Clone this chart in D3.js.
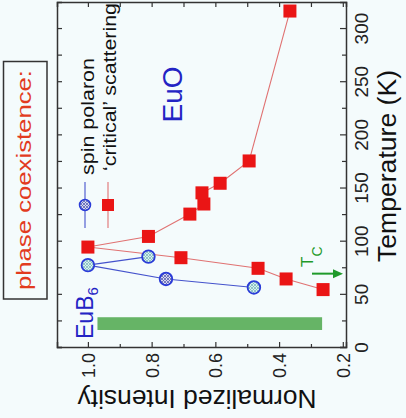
<!DOCTYPE html>
<html><head><meta charset="utf-8">
<script src="https://cdn.jsdelivr.net/npm/d3@7"></script>
<style>
html,body{margin:0;padding:0;background:#f4fbfc;}
svg{display:block;}
text{font-family:"Liberation Sans",Arial,Helvetica,sans-serif;}
</style></head>
<body>
<svg id="chart" width="406" height="418"></svg>
<script>
// ---- data ----
const intensityTicks = [1.0, 0.8, 0.6, 0.4, 0.2];
const intensityMinor = [0.9, 0.7, 0.5, 0.3];
const temperatureTicks = [0, 50, 100, 150, 200, 250, 300];
const temperatureMinor = [25, 75, 125, 175, 225, 275, 325];

// spin polaron (EuB6) – two branches from the common first point
const spinUpperI = [1.0, 0.81];
const spinUpperT = [77, 85];
const spinLowerI = [1.0, 0.755, 0.479];
const spinLowerT = [77, 64, 56];
// 'critical' scattering (EuO)
const critUpperI = [1.0, 0.81, 0.68, 0.636, 0.642, 0.585, 0.494, 0.366];
const critUpperT = [94, 104, 125, 134.5, 145, 154, 175, 316];
const critLowerI = [1.0, 0.708, 0.466, 0.378, 0.262];
const critLowerT = [94, 84, 74, 64, 54];
// filling of the spin-polaron circles ("dark" = darker cross-hatch)
const spinUpperFill = ["light", "light"];
const spinLowerFill = ["light", "dark", "light"];

const tcTemperature = 69;           // T_C arrow
const barIntensity = [0.97, 0.265]; // green bar
const barTemperature = [16, 28];

const legendLabels = ["spin polaron", "\u2018critical\u2019 scattering"];

// ---- scales ----
const svg = d3.select("#chart");
const x = d3.scaleLinear().domain([1.097, 0.19]).range([57, 346]);
const y = d3.scaleLinear().domain([0, 324.5]).range([347, 2]);

const defs = svg.append("defs");
function hatch(id, bg, fg) {
  const p = defs.append("pattern").attr("id", id).attr("patternUnits", "userSpaceOnUse")
    .attr("width", 3).attr("height", 3);
  p.append("rect").attr("width", 3).attr("height", 3).attr("fill", bg);
  p.append("path").attr("d", "M0,0L3,3M3,0L0,3").attr("stroke", fg).attr("stroke-width", 0.8);
}
hatch("hLight", "#d6f2ec", "#7fb8c0");
hatch("hDark", "#d8d8ee", "#5a62b4");

const axisColor = "#333";

// green bar
svg.append("rect")
  .attr("x", x(barIntensity[0])).attr("width", x(barIntensity[1]) - x(barIntensity[0]))
  .attr("y", y(barTemperature[1])).attr("height", y(barTemperature[0]) - y(barTemperature[1]))
  .attr("fill", "#66b466");

// axes
function styleAxis(g) {
  g.select(".domain").attr("stroke", axisColor).attr("stroke-width", 1.5);
  g.selectAll(".tick line").attr("stroke", axisColor).attr("stroke-width", 1.2);
}
const allI = intensityTicks.concat(intensityMinor);
const allT = temperatureTicks.concat(temperatureMinor.filter(t => t < 324));

const gBottom = svg.append("g").attr("transform", "translate(0,347)")
  .call(d3.axisBottom(x).tickValues(allI).tickSizeOuter(0)
    .tickSize(-5).tickFormat(d => intensityTicks.some(v => Math.abs(v - d) < 1e-9) ? d3.format(".1f")(d) : ""));
styleAxis(gBottom);
gBottom.selectAll(".tick line").attr("y2", d => intensityTicks.some(v => Math.abs(v - d) < 1e-9) ? -5 : -3);
gBottom.selectAll(".tick text")
  .attr("x", 0).attr("y", 0).attr("dy", null)
  .attr("transform", "translate(6.5,6) rotate(-90)")
  .attr("text-anchor", "end").attr("font-size", 18).attr("fill", "#222")
  .attr("font-family", "Liberation Sans, Arial, sans-serif");

const gTop = svg.append("g").attr("transform", "translate(0,2)")
  .call(d3.axisTop(x).tickValues(allI).tickSizeOuter(0).tickSize(-5).tickFormat(""));
styleAxis(gTop);

const gRight = svg.append("g").attr("transform", "translate(346,0)")
  .call(d3.axisRight(y).tickValues(allT).tickSizeOuter(0).tickSize(-6)
    .tickFormat(d => temperatureTicks.includes(d) ? String(d) : ""));
styleAxis(gRight);
gRight.selectAll(".tick line").attr("x2", d => temperatureTicks.includes(d) ? -6 : -4);
gRight.selectAll(".tick text")
  .attr("x", 0).attr("y", 0).attr("dy", null)
  .attr("transform", "translate(22,0) rotate(-90)")
  .attr("text-anchor", "middle").attr("font-size", 19).attr("fill", "#222")
  .attr("font-family", "Liberation Sans, Arial, sans-serif");

const gLeft = svg.append("g").attr("transform", "translate(57,0)")
  .call(d3.axisLeft(y).tickValues(allT).tickSizeOuter(0).tickSize(-5).tickFormat(""));
styleAxis(gLeft);

// axis titles
svg.append("text").attr("transform", "translate(197,390) rotate(180)")
  .attr("text-anchor", "middle").attr("font-size", 25).attr("textLength", 239)
  .attr("lengthAdjust", "spacingAndGlyphs").attr("fill", "#111").text("Normalized Intensity");
svg.append("text").attr("transform", "translate(396,166) rotate(-90)")
  .attr("text-anchor", "middle").attr("font-size", 25).attr("textLength", 192)
  .attr("lengthAdjust", "spacingAndGlyphs").attr("fill", "#111").text("Temperature (K)");

// lines
const line = d3.line().x(d => x(d[0])).y(d => y(d[1]));
function series(I, T) { return I.map((v, i) => [v, T[i]]); }
[[critUpperI, critUpperT], [critLowerI, critLowerT]].forEach(([I, T]) => {
  svg.append("path").datum(series(I, T)).attr("d", line)
    .attr("fill", "none").attr("stroke", "#e07272").attr("stroke-width", 1.1);
});
[[spinUpperI, spinUpperT], [spinLowerI, spinLowerT]].forEach(([I, T]) => {
  svg.append("path").datum(series(I, T)).attr("d", line)
    .attr("fill", "none").attr("stroke", "#4452cc").attr("stroke-width", 1.1);
});

// markers
const sq = 13;
const critPts = series(critUpperI, critUpperT).concat(series(critLowerI, critLowerT).slice(1));
svg.selectAll("rect.crit").data(critPts).enter().append("rect").attr("class", "crit")
  .attr("x", d => x(d[0]) - sq / 2).attr("y", d => y(d[1]) - sq / 2)
  .attr("width", sq).attr("height", sq).attr("fill", "#ea1515");

const spinPts = series(spinUpperI, spinUpperT).map((d, i) => d.concat(spinUpperFill[i]))
  .concat(series(spinLowerI, spinLowerT).map((d, i) => d.concat(spinLowerFill[i])).slice(1));
svg.selectAll("circle.spin").data(spinPts).enter().append("circle").attr("class", "spin")
  .attr("cx", d => x(d[0])).attr("cy", d => y(d[1])).attr("r", 6.3)
  .attr("fill", d => d[2] === "dark" ? "url(#hDark)" : "url(#hLight)")
  .attr("stroke", "#2a3bd8").attr("stroke-width", 1.8);

// legend
const lg = svg.append("g");
lg.append("line").attr("x1", 85).attr("x2", 85).attr("y1", 182).attr("y2", 228)
  .attr("stroke", "#4452cc").attr("stroke-width", 1.1);
lg.append("circle").attr("cx", 85).attr("cy", 205).attr("r", 5.5)
  .attr("fill", "url(#hDark)").attr("stroke", "#2a3bd8").attr("stroke-width", 1.5);
lg.append("line").attr("x1", 108).attr("x2", 108).attr("y1", 182).attr("y2", 228)
  .attr("stroke", "#e07272").attr("stroke-width", 1.1);
lg.append("rect").attr("x", 108 - 6).attr("y", 205 - 6).attr("width", 12).attr("height", 12)
  .attr("fill", "#ea1515");
lg.append("text").attr("transform", "translate(94,175) rotate(-90)")
  .attr("font-size", 19).attr("textLength", 117).attr("lengthAdjust", "spacingAndGlyphs")
  .attr("fill", "#111").text(legendLabels[0]);
lg.append("text").attr("transform", "translate(116,171) rotate(-90)")
  .attr("font-size", 19).attr("textLength", 168).attr("lengthAdjust", "spacingAndGlyphs")
  .attr("fill", "#111").text(legendLabels[1]);

// labels
svg.append("text").attr("transform", "translate(182,94.5) rotate(-90)")
  .attr("text-anchor", "middle").attr("font-size", 28).attr("fill", "#2323c4").text("EuO");
const eub = svg.append("text").attr("transform", "translate(93,339) rotate(-90)")
  .attr("font-size", 23).attr("fill", "#2323c4");
eub.append("tspan").text("EuB");
eub.append("tspan").attr("font-size", 15).attr("dy", 5).text("6");

// phase coexistence box
svg.append("rect").attr("x", 3.5).attr("y", 61.5).attr("width", 43.5).attr("height", 237.5)
  .attr("fill", "none").attr("stroke", "#333").attr("stroke-width", 1.5);
svg.append("text").attr("transform", "translate(31,180) rotate(-90)")
  .attr("text-anchor", "middle").attr("font-size", 20).attr("textLength", 220)
  .attr("lengthAdjust", "spacingAndGlyphs").attr("fill", "#e23b1f").text("phase coexistence:");

// Tc arrow
const ty = y(tcTemperature);
svg.append("line").attr("x1", 312).attr("x2", 335).attr("y1", ty).attr("y2", ty)
  .attr("stroke", "#1f9a2a").attr("stroke-width", 2);
svg.append("path").attr("d", `M333,${ty - 4.5}L343,${ty}L333,${ty + 4.5}Z`).attr("fill", "#1f9a2a");
const tc = svg.append("text").attr("transform", "translate(313,267) rotate(-90)")
  .attr("font-size", 17).attr("fill", "#1f9a2a");
tc.append("tspan").text("T");
tc.append("tspan").attr("font-size", 14).attr("dy", 9).text("C");
</script>
</body></html>
